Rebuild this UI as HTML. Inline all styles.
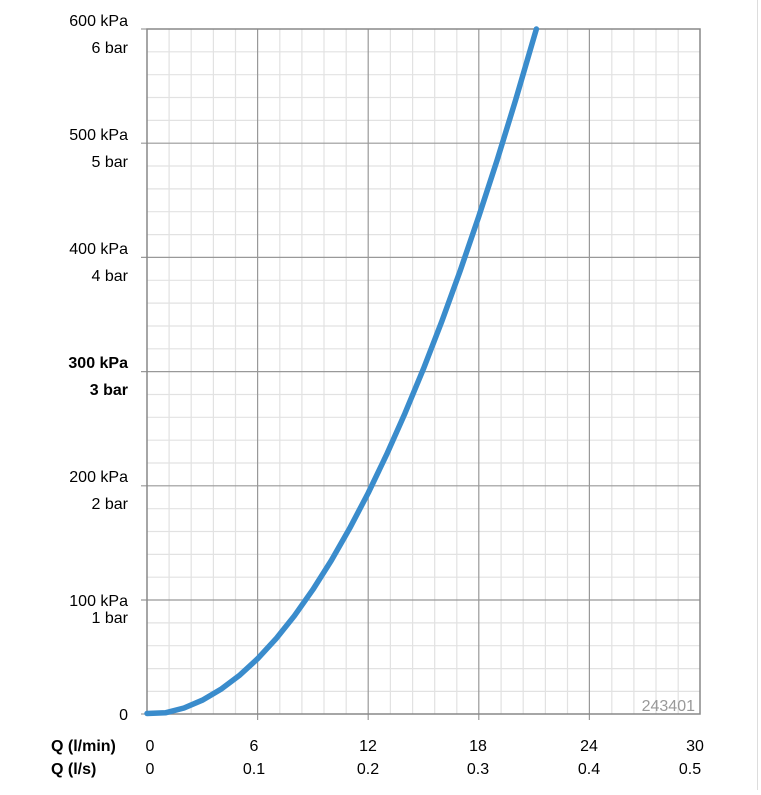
<!DOCTYPE html><html><head><style>body{margin:0;background:#fff;width:761px;height:790px;overflow:hidden}svg text{font-family:"Liberation Sans",sans-serif;font-size:16px;fill:#000}</style></head><body>
<svg width="761" height="790" xmlns="http://www.w3.org/2000/svg">
<line x1="757.5" y1="0" x2="757.5" y2="790" stroke="#ddd"/>
<g stroke="#e2e2e2" stroke-width="1.2">
<path d="M169.1 29V714M191.2 29V714M213.4 29V714M235.5 29V714M279.8 29V714M301.9 29V714M324 29V714M346.2 29V714M390.4 29V714M412.6 29V714M434.7 29V714M456.8 29V714M501.1 29V714M523.2 29V714M545.4 29V714M567.5 29V714M611.8 29V714M633.9 29V714M656 29V714M678.2 29V714"/>
<path d="M147 51.8H700M147 74.7H700M147 97.5H700M147 120.4H700M147 166H700M147 188.9H700M147 211.7H700M147 234.6H700M147 280.3H700M147 303.1H700M147 326H700M147 348.8H700M147 394.5H700M147 417.3H700M147 440.2H700M147 463H700M147 508.7H700M147 531.5H700M147 554.4H700M147 577.2H700M147 622.9H700M147 645.7H700M147 668.6H700M147 691.4H700"/>
</g>
<g stroke="#999" stroke-width="1.2">
<path d="M257.6 29V720M368.2 29V720M478.8 29V720M589.4 29V720M141 143.2H700M141 257.4H700M141 371.6H700M141 485.8H700M141 600H700"/>
</g>
<rect x="147" y="29" width="553" height="685" fill="none" stroke="#888" stroke-width="1.5"/>
<line x1="141" y1="29" x2="147" y2="29" stroke="#888"/>
<line x1="141" y1="714" x2="147" y2="714" stroke="#888"/>
<path d="M147 713.5 L165.4 712.8 L184 708 L202.3 700.2 L220.7 689.4 L239.2 675.6 L257.6 658.7 L276 638.8 L294.4 615.8 L312.9 589.6 L331.3 560.5 L349.7 528.3 L368.2 493 L386.6 454.6 L405 413.2 L423.5 368.7 L441.9 321.1 L460.3 270.4 L478.7 216.7 L497.2 159.9 L515.6 100.1 L534 37.1 L536.4 29" fill="none" stroke="#3a8ccc" stroke-width="5.5" stroke-linejoin="round" stroke-linecap="round"/>
<g text-anchor="end">
<text x="128" y="26">600 kPa</text><text x="128" y="53">6 bar</text>
<text x="128" y="140">500 kPa</text><text x="128" y="167">5 bar</text>
<text x="128" y="254">400 kPa</text><text x="128" y="281">4 bar</text>
<text x="128" y="368" font-weight="bold">300 kPa</text><text x="128" y="395" font-weight="bold">3 bar</text>
<text x="128" y="482">200 kPa</text><text x="128" y="509">2 bar</text>
<text x="128" y="606">100 kPa</text><text x="128" y="623">1 bar</text>
<text x="128" y="720">0</text>
</g>
<text x="51" y="751" font-weight="bold">Q (l/min)</text>
<text x="51" y="774" font-weight="bold">Q (l/s)</text>
<g text-anchor="middle">
<text x="150" y="751">0</text><text x="254" y="751">6</text><text x="368" y="751">12</text><text x="478" y="751">18</text><text x="589" y="751">24</text><text x="695" y="751">30</text>
<text x="150" y="774">0</text><text x="254" y="774">0.1</text><text x="368" y="774">0.2</text><text x="478" y="774">0.3</text><text x="589" y="774">0.4</text><text x="690" y="774">0.5</text>
</g>
<text x="695" y="711" text-anchor="end" style="fill:#999;font-size:16px">243401</text>
</svg></body></html>
